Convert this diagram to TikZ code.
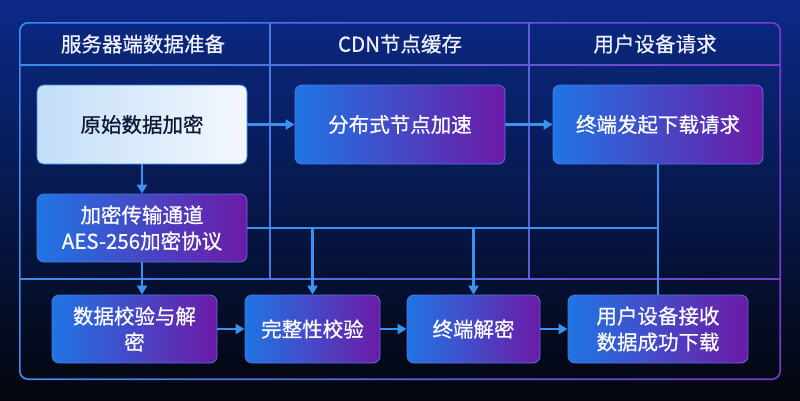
\documentclass[tikz,border=0pt]{standalone}
\usepackage{fontspec}
\setmainfont{Noto Sans CJK SC}[FakeBold=0.7]
\usetikzlibrary{arrows.meta}
\definecolor{bgTop}{HTML}{0B2A88}
\definecolor{bgMid}{HTML}{06184C}
\definecolor{bgBot}{HTML}{04050C}
\definecolor{frA}{HTML}{3A8EF0}
\definecolor{frB}{HTML}{7A3AD0}
\definecolor{boxA}{HTML}{2075E4}
\definecolor{boxB}{HTML}{6C1AA6}
\definecolor{boxline}{HTML}{4A78E0}
\definecolor{arrowc}{HTML}{3A92F2}
\definecolor{lightA}{HTML}{C2DEF8}
\definecolor{lightB}{HTML}{F4F8FE}
\definecolor{darktext}{HTML}{0E1636}
\begin{document}
\begin{tikzpicture}[x=1pt,y=-1pt,
  txt/.style={font=\fontsize{20.5}{26}\selectfont, align=center},
  box/.style={txt, rounded corners=7pt, draw=boxline, line width=0.8pt,
    left color=boxA, right color=boxB, text=white, inner sep=0pt},
  lightbox/.style={txt, rounded corners=7pt, draw=frA, line width=0.8pt,
    left color=lightA, right color=lightB, text=darktext, inner sep=0pt},
  head/.style={txt, text=white!94!blue},
  arr/.style={draw=arrowc, line width=2.7pt, -{Triangle[length=9pt,width=10pt]}},
  lin/.style={draw=arrowc, line width=2.7pt}]
\useasboundingbox (0,0) rectangle (800,400);
% background
\shade[top color=bgTop, bottom color=bgBot, middle color=bgMid] (0,0) rectangle (800,400);
% outer frame (shaded stroke)
\shade[left color=frA, right color=frB, even odd rule]
  [rounded corners=9pt] (19,22) rectangle (781,380)
  [rounded corners=7.6pt] (20.6,23.6) rectangle (779.4,378.4);
% dividers
\shade[left color=frA, right color=frB] (20,64.3) rectangle (780,65.7);
\shade[left color=frA, right color=frB] (20,278.3) rectangle (780,279.7);
\fill[frA!72!frB] (269.3,23) rectangle (270.7,279);
\fill[frA!40!frB] (528.3,23) rectangle (529.7,279);
% headers
\node[head] (h1) at (143,44) {服务器端数据准备};
\node[head] (h2) at (400,44) {CDN节点缓存};
\node[head] (h3) at (655,44) {用户设备请求};
% boxes
\node[lightbox, minimum width=210pt, minimum height=79pt] (n1) at (142,124.5) {原始数据加密};
\node[box, minimum width=210pt, minimum height=79pt] (n2) at (400,124.5) {分布式节点加速};
\node[box, minimum width=210pt, minimum height=79pt] (n3) at (658,124.5) {终端发起下载请求};
\node[box, minimum width=210pt, minimum height=68pt] (n4) at (142,228) {加密传输通道\\AES-256加密协议};
\node[box, minimum width=165pt, minimum height=68pt] (n5) at (134.5,329) {数据校验与解\\密};
\node[box, minimum width=135pt, minimum height=68pt] (n6) at (312.5,329) {完整性校验};
\node[box, minimum width=133pt, minimum height=68pt] (n7) at (473.5,329) {终端解密};
\node[box, minimum width=180pt, minimum height=68pt] (n8) at (658,329) {用户设备接收\\数据成功下载};
% connectors
\coordinate (j) at (n3.south |- n4.east);
\draw[arr] (n1) -- (n2);
\draw[arr] (n2) -- (n3);
\draw[arr] (n1) -- (n4);
\draw[arr] (n4.south) -- (n4.south |- n5.north);
\draw[lin] (n4.east) -- (j);
\draw[lin] (n3.south) -- (n8.north);
\draw[arr] (n6.north |- j) -- (n6.north);
\draw[arr] (n7.north |- j) -- (n7.north);
\draw[arr] (n5) -- (n6);
\draw[arr] (n6) -- (n7);
\draw[arr] (n7) -- (n8);
\end{tikzpicture}
\end{document}
